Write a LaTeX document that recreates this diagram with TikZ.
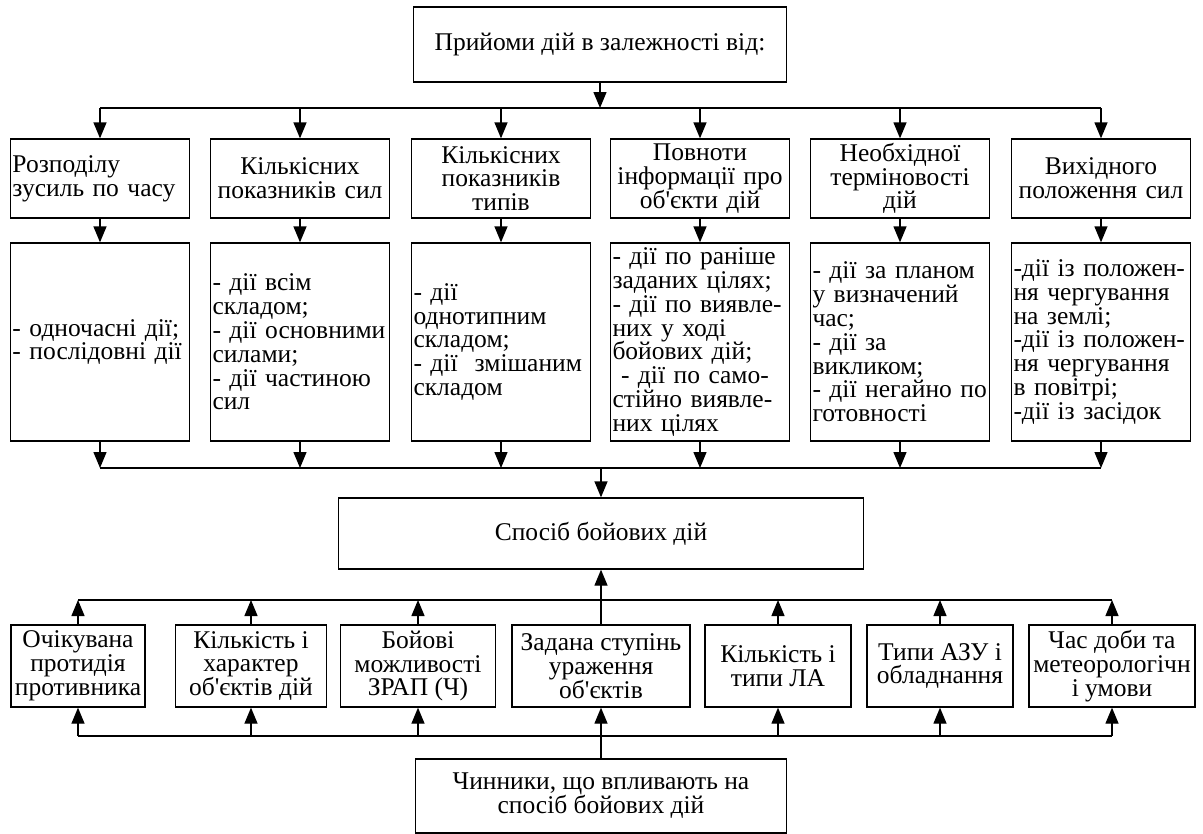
\documentclass[tikz,border=0pt]{standalone}
\usepackage{fontspec}
\setmainfont{Liberation Serif}
\usetikzlibrary{arrows.meta}
\newcommand\dfont{\fontsize{25.5bp}{23.8bp}\selectfont}
\newcommand\ap{\textquotesingle}
\tikzset{
  box/.style={draw, line width=1.3bp, font=\dfont, inner xsep=2bp, inner ysep=1bp},
  hdr/.style={box, minimum height=79bp, text width=175bp, align=center},
  hdrl/.style={box, minimum height=79bp, text width=175bp, align=left},
  cnt/.style={box, minimum height=198bp, text width=175bp, align=left},
  fct/.style={box, minimum height=82bp, align=center},
  arr/.style={-{Triangle[length=16bp,width=13bp]}, line width=1.3bp},
  ln/.style={line width=1.3bp}
}
\begin{document}
\begin{tikzpicture}[x=1bp,y=-1bp]
\useasboundingbox (0,0) rectangle (1203,834);
% top
\node[box, minimum width=373bp, minimum height=75bp] (top) at (600,44.5) {Прийоми дій в залежності від:};
\coordinate (t1) at (600,108);
% headers
\node[hdrl] (h1) at (100,178.5) {Розподілу\\зусиль по часу};
\node[hdr] (h2) at (300,178.5) {Кількісних\\показників сил};
\node[hdr] (h3) at (501,178.5) {Кількісних\\показників\\типів};
\node[hdr] (h4) at (700,178.5) {Повноти\\інформації про\\об\ap єкти дій};
\node[hdr] (h5) at (900,178.5) {Необхідної\\терміновості\\дій};
\node[hdr] (h6) at (1101,178.5) {Вихідного\\положення сил};
% contents
\node[cnt] (c1) at (100,342) {- одночасні дії;\\- послідовні дії};
\node[cnt] (c2) at (300,342) {- дії всім\\складом;\\- дії основними\\силами;\\- дії частиною\\сил};
\node[cnt] (c3) at (501,342) {- дії\\однотипним\\складом;\\- дії\ \ змішаним\\складом};
\node[cnt] (c4) at (700,342) {- дії по раніше\\заданих цілях;\\- дії по виявле-\\них у ході\\бойових дій;\\\ - дії по само-\\стійно виявле-\\них цілях};
\node[cnt] (c5) at (900,342) {- дії за планом\\у визначений\\час;\\- дії за\\викликом;\\- дії негайно по\\готовності};
\node[cnt] (c6) at (1101,342) {-дії із положен-\\ня чергування\\на землі;\\-дії із положен-\\ня чергування\\в повітрі;\\-дії із засідок};
\coordinate (t2) at (601,468);
% main
\node[box, minimum width=525bp, minimum height=71bp] (main) at (601,533.5) {Спосіб бойових дій};
\coordinate (t3) at (601,600);
% factors
\node[fct, minimum width=134bp] (fa) at (78,666) {Очікувана\\протидія\\противника};
\node[fct, minimum width=151bp] (fb) at (251,666) {Кількість і\\характер\\об\ap єктів дій};
\node[fct, minimum width=155bp] (fc) at (418,666) {Бойові\\можливості\\ЗРАП (Ч)};
\node[fct, minimum width=178bp] (fd) at (601,666) {Задана ступінь\\ураження\\об\ap єктів};
\node[fct, minimum width=146bp] (fe) at (778,666) {Кількість і\\типи ЛА};
\node[fct, minimum width=146bp] (ff) at (940,666) {Типи АЗУ і\\обладнання};
\node[fct, minimum width=166bp] (fg) at (1112,666) {Час доби та\\метеорологічн\\і умови};
\coordinate (t4) at (601,736);
\node[box, minimum width=371bp, minimum height=74bp, align=center] (bot) at (601,796) {Чинники, що впливають на\\спосіб бойових дій};
% connectors top
\draw[arr] (top.south) -- (top.south |- t1);
\draw[ln] (h1.north |- t1) -- (h6.north |- t1);
\foreach \i in {1,...,6} {
  \draw[arr] (h\i.north |- t1) -- (h\i.north);
  \draw[arr] (h\i.south) -- (c\i.north);
  \draw[arr] (c\i.south) -- (c\i.south |- t2);
}
\draw[ln] (c1.south |- t2) -- (c6.south |- t2);
\draw[arr] (main.north |- t2) -- (main.north);
% connectors bottom
\draw[ln] (fa.north |- t3) -- (fg.north |- t3);
\draw[ln] (fa.south |- t4) -- (fg.south |- t4);
\foreach \n in {fa,fb,fc,fe,ff,fg} {
  \draw[arr] (\n.north) -- (\n.north |- t3);
  \draw[arr] (\n.south |- t4) -- (\n.south);
}
\draw[arr] (fd.north) -- (main.south);
\draw[arr] (bot.north) -- (fd.south);
\end{tikzpicture}
\end{document}
